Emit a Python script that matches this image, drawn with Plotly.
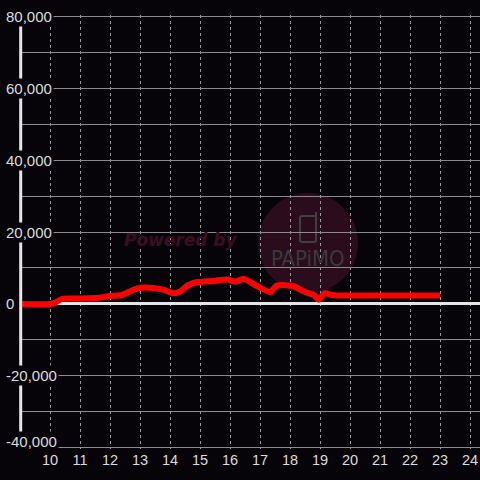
import plotly.graph_objects as go

# ---- data ----
hours = [9.0, 10.0, 10.15, 10.4, 11.0, 11.6, 12.0, 12.4, 12.8, 13.0, 13.5, 13.8,
         14.1, 14.3, 14.6, 14.9, 15.3, 15.9, 16.2, 16.45, 16.9, 17.35, 17.55,
         18.1, 18.5, 18.8, 18.95, 19.15, 19.45, 20.0, 21.0, 22.0, 23.0]
values = [0, 0, 300, 1400, 1500, 1700, 2200, 2500, 4000, 4500, 4400, 3900,
          3000, 3300, 5200, 6100, 6300, 6800, 6200, 7000, 5000, 3300, 5100,
          5000, 3300, 2500, 1200, 3000, 2400, 2350, 2350, 2350, 2350]

x_tick_vals = list(range(10, 25))
x_tick_text = [str(v) for v in x_tick_vals]
y_tick_vals = [80000, 60000, 40000, 20000, 0, -20000, -40000]
y_tick_text = ["80,000", "60,000", "40,000", "20,000", "0", "-20,000", "-40,000"]

BG = "#060409"
FONT = "Liberation Sans"

fig = go.Figure()
fig.add_trace(go.Scatter(
    x=hours, y=values, mode="lines",
    line=dict(color="#ff0000", width=6, shape="spline", smoothing=0.6),
    hoverinfo="skip",
))

PLOT_W = 460.0
PLOT_H = 434.0

def px_x(p):
    return (p - 20) / PLOT_W

def px_y(p):
    return (449 - p) / PLOT_H

def pt(x, y):
    return "%.5f,%.5f" % (px_x(x), px_y(y))

phone_path = ("M " + pt(316, 212) + " L " + pt(316, 240) +
              " Q " + pt(316, 242) + " " + pt(314, 242) +
              " L " + pt(302, 242) +
              " Q " + pt(300, 242) + " " + pt(300, 240) +
              " L " + pt(300, 218) +
              " Q " + pt(300, 216) + " " + pt(302, 216) +
              " L " + pt(316, 216))

shapes = [
    # watermark circle
    dict(type="circle", xref="paper", yref="paper",
         x0=px_x(258), x1=px_x(358), y0=px_y(293), y1=px_y(193),
         fillcolor="#2a0c1c", line=dict(width=0), layer="below"),
    # watermark phone icon
    dict(type="path", xref="paper", yref="paper", path=phone_path,
         line=dict(color="#404040", width=2), layer="below"),
    # y axis line
    dict(type="line", xref="paper", yref="paper",
         x0=px_x(20.7), x1=px_x(20.7), y0=0, y1=1,
         line=dict(color="#e6e6e6", width=3)),
]

annotations = [
    dict(text="<b><i>Powered by</i></b>", xref="paper", yref="paper",
         x=px_x(181), y=px_y(240), showarrow=False,
         font=dict(family="DejaVu Sans", size=17, color="#3b0f20")),
    dict(text="PAPiMO", xref="paper", yref="paper",
         x=px_x(308), y=px_y(258), showarrow=False,
         font=dict(family="Liberation Sans Narrow, DejaVu Sans Condensed, DejaVu Sans Mono",
                   size=22, color="#3a3a3a")),
]
for v, t in zip(y_tick_vals, y_tick_text):
    annotations.append(dict(
        text=t, xref="paper", yref="y", x=px_x(4), y=v,
        xanchor="left", yanchor="middle", showarrow=False,
        yshift=6 if v == min(y_tick_vals) else 0,
        bgcolor=BG, borderpad=1,
        font=dict(family=FONT, size=15, color="#dddddd"),
    ))

fig.update_layout(
    width=480, height=480,
    margin=dict(l=20, r=0, t=15, b=31, autoexpand=False),
    paper_bgcolor=BG, plot_bgcolor="rgba(0,0,0,0)",
    showlegend=False,
    shapes=shapes, annotations=annotations,
    xaxis=dict(
        range=[9, 24.3333], tickvals=x_tick_vals, ticktext=x_tick_text,
        tickfont=dict(family=FONT, size=14.5, color="#dddddd"),
        showgrid=True, gridcolor="#9a9a9a", gridwidth=1, griddash="3px,3px",
        zeroline=False, showline=False, ticks="", fixedrange=True,
        automargin=False,
    ),
    yaxis=dict(
        range=[-40300, 80300], tick0=0, dtick=10000, showticklabels=False,
        showgrid=True, gridcolor="#8c8c8c", gridwidth=1,
        zeroline=True, zerolinecolor="#e6e6e6", zerolinewidth=3,
        showline=False, ticks="", fixedrange=True, automargin=False,
    ),
)

fig.write_html(
    "out.html",
    config={"displayModeBar": False},
    post_script="document.body.style.margin='0';document.body.style.background='%s';" % BG,
)
